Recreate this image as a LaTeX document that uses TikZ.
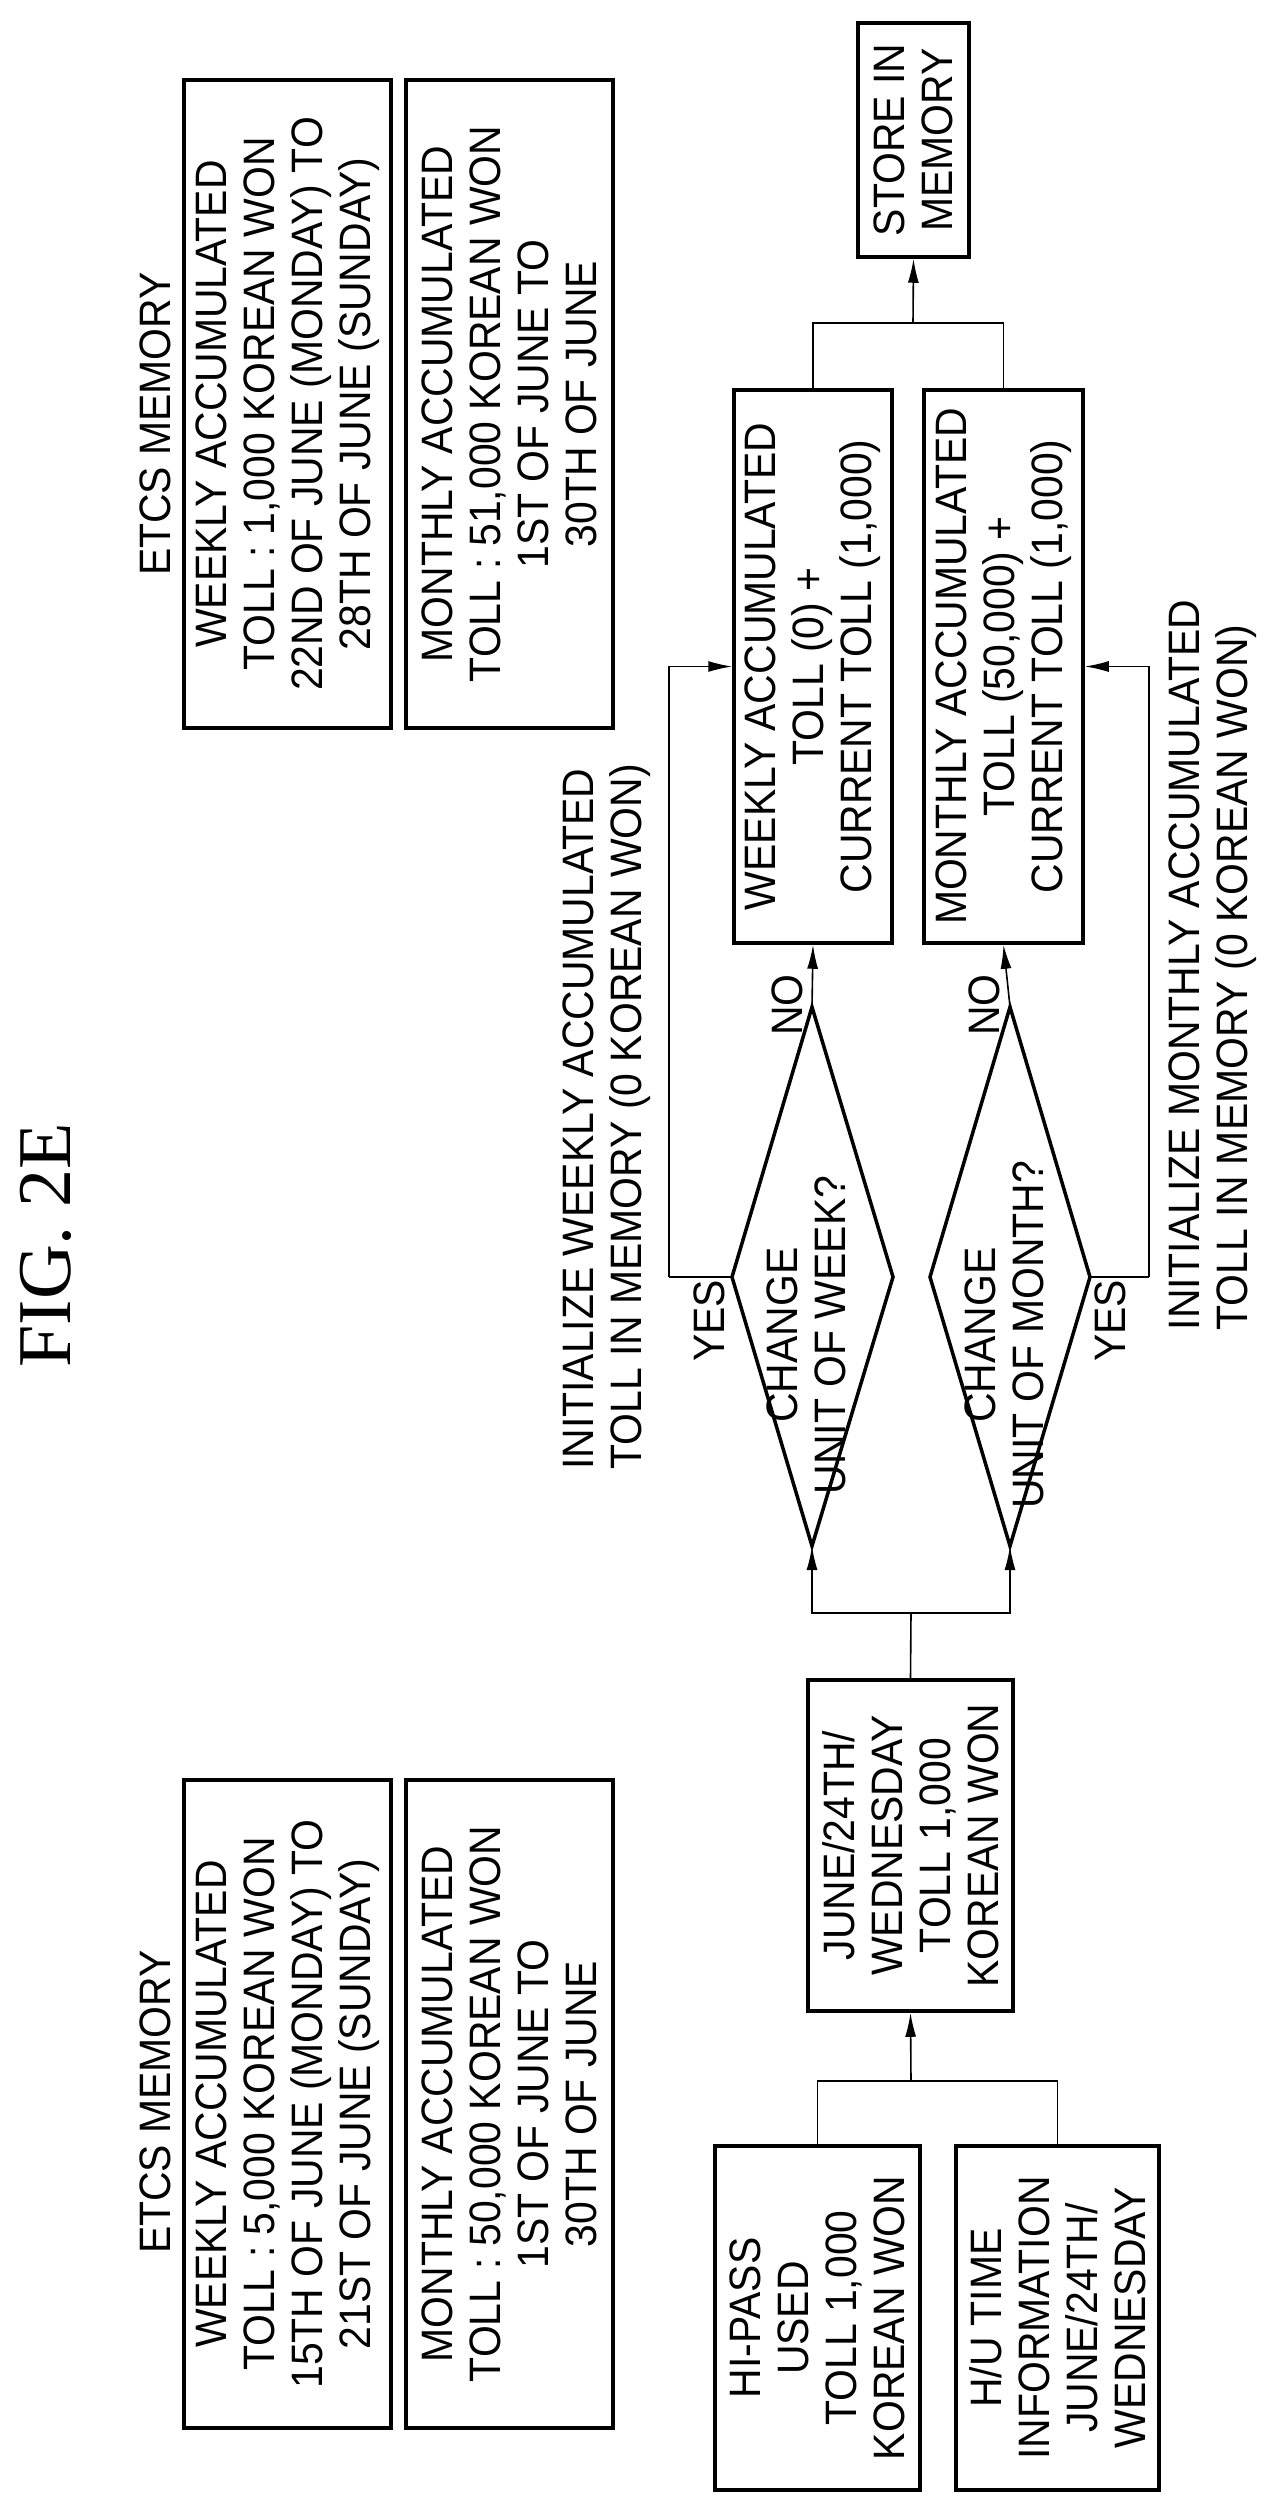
\documentclass[tikz,border=0pt]{standalone}
\usepackage{fontspec}
\setmainfont[FakeStretch=0.93]{Liberation Sans}
\newfontfamily\figfont{Liberation Serif}
\usetikzlibrary{arrows.meta}
\begin{document}
\begin{tikzpicture}[x=1pt,y=-1pt,
  txt/.style={rotate=90,align=center,font=\fontsize{44}{48}\selectfont,inner sep=0pt},
  box/.style={txt,draw,line width=3.5pt},
  ln/.style={line width=1.6pt},
  arr/.style={ln,-{Latex[length=24pt,width=11pt]}},
  dia/.style={line width=3.5pt,line join=miter}]
\useasboundingbox (0,0) rectangle (1280,2509);
\node[rotate=90,font=\figfont\fontsize{76}{80}\selectfont,inner sep=0pt] (fig) at (46,1245) {FIG. 2E};
% ETCS memories
\node[txt] (erl) at (155,424) {ETCS MEMORY};
\node[box,minimum width=648pt,minimum height=207pt] (etw) at (287.5,404) {WEEKLY ACCUMULATED\\TOLL : 1,000 KOREAN WON\\22ND OF JUNE (MONDAY) TO\\28TH OF JUNE (SUNDAY)};
\node[box,minimum width=648pt,minimum height=207pt] (etm) at (509.5,404) {MONTHLY ACCUMULATED\\TOLL : 51,000 KOREAN WON\\1ST OF JUNE TO\\30TH OF JUNE};
\node[txt] (ell) at (155,2102) {ETCS MEMORY};
\node[box,minimum width=648pt,minimum height=207pt] (elw) at (287.5,2104) {WEEKLY ACCUMULATED\\TOLL : 5,000 KOREAN WON\\15TH OF JUNE (MONDAY) TO\\21ST OF JUNE (SUNDAY)};
\node[box,minimum width=648pt,minimum height=207pt] (elm) at (509.5,2104) {MONTHLY ACCUMULATED\\TOLL : 50,000 KOREAN WON\\1ST OF JUNE TO\\30TH OF JUNE};
% flow
\node[box,minimum width=344pt,minimum height=205pt] (hip) at (817.5,2318) {HI-PASS\\USED\\TOLL 1,000\\KOREAN WON};
\node[box,minimum width=344pt,minimum height=203pt] (hu) at (1057.5,2318) {H/U TIME\\INFORMATION\\JUNE/24TH/\\WEDNESDAY};
\node[box,minimum width=331pt,minimum height=205pt] (june) at (910.5,1845.5) {JUNE/24TH/\\WEDNESDAY\\TOLL 1,000\\KOREAN WON};
\node[box,minimum width=553pt,minimum height=158pt] (wacc) at (813,666.5) {WEEKLY ACCUMULATED\\TOLL (0) +\\CURRENT TOLL (1,000)};
\node[box,minimum width=553pt,minimum height=159pt] (macc) at (1003.5,666.5) {MONTHLY ACCUMULATED\\TOLL (50,000) +\\CURRENT TOLL (1,000)};
\node[box,minimum width=234pt,minimum height=111pt] (store) at (913.5,140) {STORE IN\\MEMORY};
% diamonds
\coordinate (dwt) at (812,1007); \coordinate (dwb) at (812,1546);
\coordinate (dwl) at (732,1277); \coordinate (dwr) at (893,1277);
\coordinate (dmt) at (1010,1007); \coordinate (dmb) at (1010,1546);
\coordinate (dml) at (930,1277); \coordinate (dmr) at (1090,1277);
\draw[dia] (dwt) -- (dwr) -- (dwb) -- (dwl) -- cycle;
\draw[dia] (dmt) -- (dmr) -- (dmb) -- (dml) -- cycle;
\node[txt] (dwtxt) at (806,1335) {CHANGE\\UNIT OF WEEK?};
\node[txt] (dmtxt) at (1004,1335) {CHANGE\\UNIT OF MONTH?};
% labels
\node[txt] (yes1) at (709,1321) {YES};
\node[txt] (yes2) at (1110,1321) {YES};
\node[txt] (no1) at (787,1005) {NO};
\node[txt] (no2) at (984,1005) {NO};
\node[txt,align=left] (iniw) at (607,1117) {INITIALIZE WEEKLY ACCUMULATED\\TOLL IN MEMORY (0 KOREAN WON)};
\node[txt,align=left] (inim) at (1213,965) {INITIALIZE MONTHLY ACCUMULATED\\TOLL IN MEMORY (0 KOREAN WON)};
% connectors
\coordinate (j1) at (911,2081);
\coordinate (j2) at (911,1613);
\coordinate (j3) at (913,323);
\coordinate (lw) at (669,1277);
\coordinate (lm) at (1149,1277);
\draw[ln] (hip.east) |- (j1) -| (hu.east);
\draw[arr] (j1) -- (june.west);
\draw[ln] (june.east) -- (j2);
\draw[arr] (j2) -| (dwb);
\draw[arr] (j2) -| (dmb);
\draw[arr] (dwt) -- (wacc.west);
\draw[arr] (dmt) -- (macc.west);
\draw[ln] (dwl) -- (lw);
\draw[arr] (lw) |- (wacc.north);
\draw[ln] (dmr) -- (lm);
\draw[arr] (lm) |- (macc.south);
\draw[ln] (wacc.east) |- (j3) -| (macc.east);
\draw[arr] (j3) -- (store.west);
\end{tikzpicture}
\end{document}
